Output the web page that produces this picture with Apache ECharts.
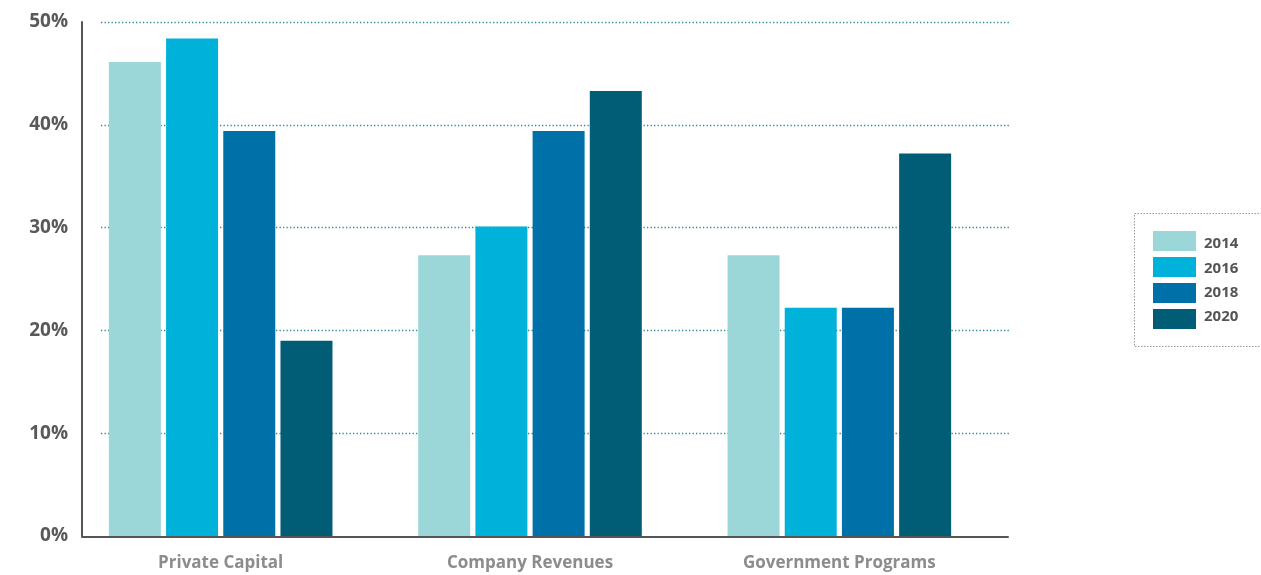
<!DOCTYPE html>
<html><head><meta charset="utf-8">
<script src="https://cdn.jsdelivr.net/npm/echarts@6/dist/echarts.min.js"></script>
<style>html,body{margin:0;padding:0;background:#fff}#c{width:1261px;height:575px}</style>
</head><body><div id="c"></div>
<script>
const categories = ['Private Capital', 'Company Revenues', 'Government Programs'];
const years = ['2014', '2016', '2018', '2020'];
const v2014 = [46.1, 27.3, 27.3];
const v2016 = [48.4, 30.1, 22.2];
const v2018 = [39.4, 39.4, 22.2];
const v2020 = [19.0, 43.3, 37.2];
const yTicks = [0, 10, 20, 30, 40, 50];
const colors = ['#9bd7d8', '#00b1d9', '#0070a9', '#015d75'];
const values = [v2014, v2016, v2018, v2020];

const chart = echarts.init(document.getElementById('c'), null, {renderer: 'canvas'});
const TOP = 22, BOTTOM = 39;
const font = '"Open Sans", "Noto Sans", sans-serif';
chart.setOption({
  animation: false,
  color: colors,
  grid: [
    {left: 66, width: 928, top: TOP, bottom: BOTTOM},
    {left: 101, right: 1261 - 1009, top: TOP, bottom: BOTTOM},
    {left: 82, right: 1261 - 1008, top: TOP, bottom: BOTTOM - 1}
  ],
  xAxis: [
    {gridIndex: 0, type: 'category', data: categories, axisLine: {show: false}, axisTick: {show: false},
     axisLabel: {margin: 19, color: '#8c8c8c', fontSize: 17, fontWeight: 'bold', fontFamily: font}},
    {gridIndex: 1, type: 'value', show: false, min: 0, max: 1},
    {gridIndex: 2, type: 'value', min: 0, max: 1, axisLine: {show: true, lineStyle: {color: '#555', width: 2}},
     axisTick: {show: false}, axisLabel: {show: false}, splitLine: {show: false}}
  ],
  yAxis: [
    {gridIndex: 0, type: 'value', min: 0, max: 50, interval: 10, offset: -16,
     axisLine: {show: true, lineStyle: {color: '#555', width: 2}}, axisTick: {show: false}, splitLine: {show: false},
     axisLabel: {margin: 14, formatter: '{value}%', color: '#595959', fontSize: 19, fontWeight: 'bold', fontFamily: font,
       customValues: yTicks}},
    {gridIndex: 1, type: 'value', min: 0, max: 50, interval: 10, axisLine: {show: false}, axisTick: {show: false},
     axisLabel: {show: false},
     splitLine: {show: true, showMinLine: false, lineStyle: {color: '#2b8b9b', width: 1.3, type: [1.3, 2.2]}}},
    {gridIndex: 2, type: 'value', show: false, min: 0, max: 50}
  ],
  legend: [
    {
      orient: 'vertical', left: 1153, top: 231, padding: 0, itemWidth: 43, itemHeight: 20, itemGap: 6,
      icon: 'rect', data: years, formatter: () => '',
      textStyle: {fontSize: 1}
    },
    {
      orient: 'vertical', left: 1153, top: 234, padding: 0, itemWidth: 43, itemHeight: 20, itemGap: 4.3,
      icon: 'rect', data: years, itemStyle: {opacity: 0},
      textStyle: {color: '#555', fontSize: 15, fontWeight: 'bold', fontFamily: font, padding: [0, 0, 0, 3]}
    }
  ],
  graphic: [{
    type: 'rect', shape: {x: 1134.5, y: 213.5, width: 140, height: 133},
    style: {fill: 'none', stroke: '#999', lineWidth: 1, lineDash: [1.5, 1.5]}, silent: true
  }],
  series: years.map((y, i) => ({
    name: y, type: 'bar', xAxisIndex: 0, yAxisIndex: 0, data: values[i],
    barWidth: 52, barGap: '10%', itemStyle: {color: colors[i]}
  }))
});
</script></body></html>
